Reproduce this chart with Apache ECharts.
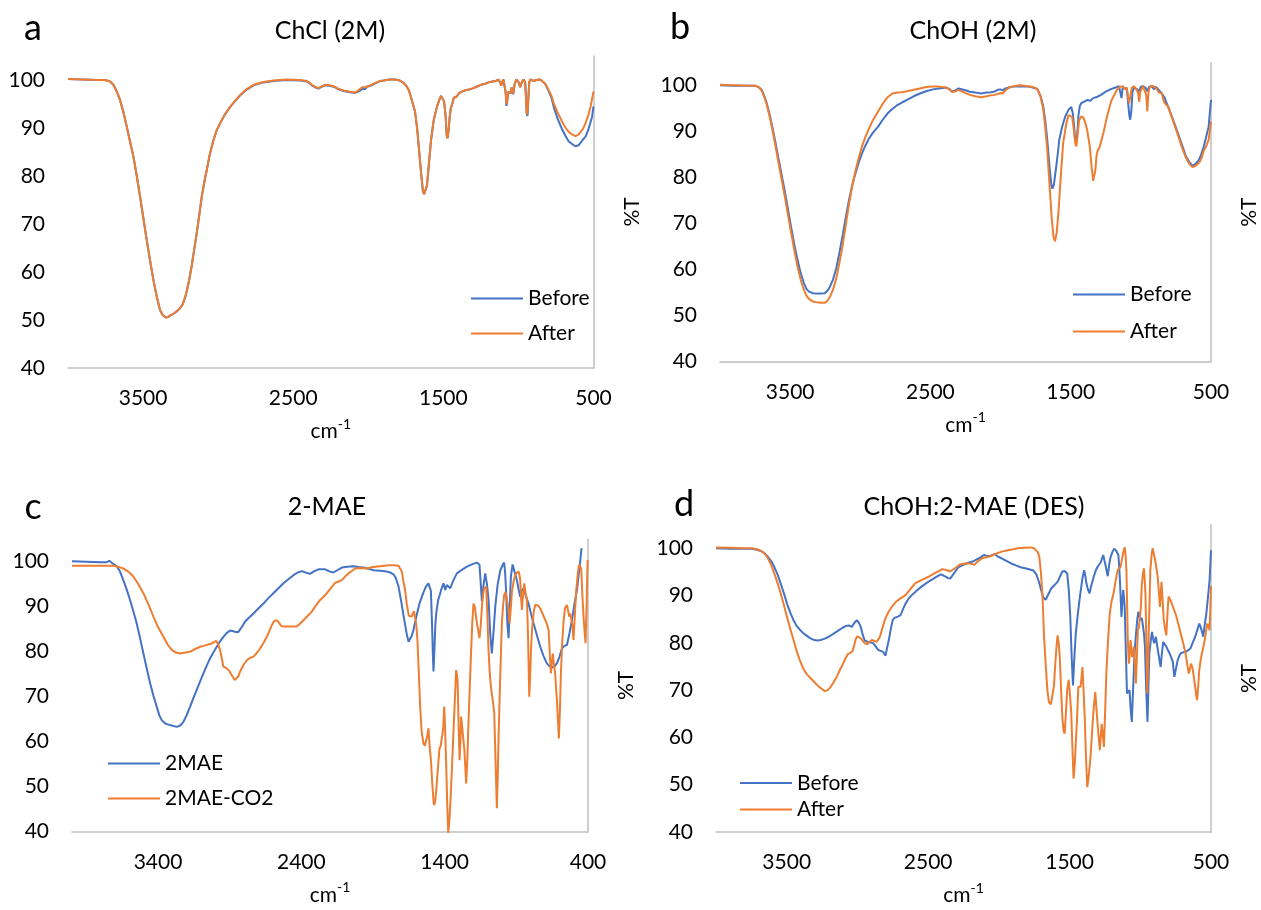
<!DOCTYPE html>
<html>
<head>
<meta charset="utf-8">
<script src="https://cdn.jsdelivr.net/npm/echarts@6/dist/echarts.min.js"></script>
<style>
html,body{margin:0;padding:0;background:#fff;}
#chart{width:1261px;height:910px;}
</style>
</head>
<body>
<div id="chart"></div>
<script>
// ---------------- DATA (wavenumber cm-1, %T) ----------------
const panelTitles = ['ChCl (2M)', 'ChOH (2M)', '2-MAE', 'ChOH:2-MAE (DES)'];
const panelLetters = ['a', 'b', 'c', 'd'];
const seriesNames = [['Before', 'After'], ['Before', 'After'], ['2MAE', '2MAE-CO2'], ['Before', 'After']];
const xMins = [500, 500, 400, 500];
const xMax = 4000;
const yMin = 40, yMax = 105, yStep = 10, xStep = 1000;

const aBefore = [[4000,100.2],[3900,100.1],[3800,100],[3753,100],[3720,99.7],[3698,99],[3675,97.6],[3653,95.8],[3630,93.2],[3609,90.3],[3587,87.2],[3564,84],[3542,80],[3520,75.7],[3498,71.2],[3476,66.7],[3453,62.3],[3431,58.3],[3409,54.9],[3387,52.1],[3368,51],[3349,50.5],[3335,50.6],[3320,50.9],[3298,51.3],[3276,51.8],[3255,52.4],[3236,53.3],[3222,54.5],[3209,56],[3192,58.5],[3176,61.3],[3160,64.6],[3142,68.2],[3125,72],[3109,75.7],[3092,78.8],[3076,81.2],[3055,84.6],[3031,87.5],[3010,89.5],[2987,91],[2955,92.8],[2920,94.4],[2887,95.6],[2853,96.8],[2810,98],[2764,98.9],[2700,99.5],[2631,99.8],[2550,100],[2453,99.9],[2409,99.7],[2390,99.3],[2376,98.9],[2355,98.5],[2331,98.2],[2310,98.6],[2287,98.9],[2260,98.8],[2231,98.6],[2200,98.1],[2165,97.7],[2130,97.5],[2087,97.3],[2060,97.7],[2040,98.1],[2031,98.3],[2020,98.1],[2009,98.6],[1985,98.8],[1953,99.3],[1920,99.8],[1898,99.9],[1860,100.1],[1820,100.1],[1790,99.9],[1765,99.4],[1745,98.7],[1729,97.8],[1710,95.8],[1689,93.5],[1675,90],[1662,85.5],[1648,80.5],[1636,76.8],[1628,76.2],[1620,76.6],[1609,78],[1595,83],[1582,87.5],[1565,91.5],[1543,94.4],[1525,96],[1515,96.7],[1505,96.4],[1495,95.5],[1485,92.5],[1478,88.5],[1472,87.9],[1465,89.5],[1458,92.2],[1451,94],[1440,95.1],[1430,96.3],[1424,96],[1410,96.6],[1395,97.3],[1385,97.3],[1360,97.8],[1330,98],[1300,98.3],[1279,98.6],[1250,99],[1220,99.2],[1200,99.5],[1173,99.7],[1150,99.8],[1133,100.1],[1122,99.5],[1115,98.8],[1108,99.6],[1100,100.1],[1093,100],[1085,97.3],[1080,94.6],[1075,95.4],[1068,97.5],[1062,97.4],[1053,97.2],[1045,98.4],[1035,97],[1025,99.2],[1014,100.1],[1000,99.6],[988,98.5],[978,99.5],[967,100.1],[955,99.5],[950,96.5],[945,93],[940,92.5],[935,95.5],[928,99.5],[921,100.1],[900,99.8],[880,100],[855,100.1],[835,99.6],[820,99.1],[800,97.8],[780,96.3],[765,94.4],[740,92],[709,89.7],[685,88.3],[665,87.2],[640,86.6],[620,86.2],[600,86.4],[587,86.9],[570,87.6],[560,87.3],[553,88.2],[545,88.6],[535,89.6],[520,91.2],[510,92.3],[500,94.5]];
const aAfter = [[4000,100.2],[3900,100.1],[3800,100],[3753,100],[3720,99.7],[3698,99],[3675,97.6],[3653,95.8],[3630,93.2],[3609,90.3],[3587,87.2],[3564,84],[3542,80],[3520,75.7],[3498,71.2],[3476,66.7],[3453,62.3],[3431,58.3],[3409,54.9],[3387,52.1],[3368,51],[3349,50.5],[3335,50.6],[3320,50.9],[3298,51.3],[3276,51.8],[3255,52.4],[3236,53.3],[3222,54.5],[3209,56],[3192,58.5],[3176,61.3],[3160,64.6],[3142,68.2],[3125,72],[3109,75.7],[3092,78.8],[3076,81.2],[3055,84.6],[3031,87.5],[3010,89.5],[2987,91],[2955,92.8],[2920,94.4],[2887,95.7],[2853,96.9],[2810,98.1],[2764,99],[2700,99.6],[2631,99.9],[2550,100.1],[2453,100],[2409,99.8],[2390,99.4],[2376,99],[2355,98.6],[2331,98.3],[2310,98.7],[2287,99],[2260,98.9],[2231,98.7],[2200,98.2],[2165,97.8],[2130,97.6],[2087,97.4],[2060,98],[2040,98.5],[2031,98.9],[2020,98.5],[2009,98.8],[1985,98.9],[1953,99.4],[1920,99.8],[1898,99.9],[1860,100.1],[1820,100.1],[1790,99.9],[1765,99.4],[1745,98.7],[1729,97.8],[1710,95.8],[1689,93.5],[1675,90],[1662,85.5],[1648,80.5],[1636,76.8],[1628,76.2],[1620,76.6],[1609,78],[1595,83],[1582,87.5],[1565,91.5],[1543,94.4],[1525,96],[1515,96.7],[1505,96.4],[1495,95.5],[1485,92.5],[1478,88.5],[1472,87.9],[1465,89.5],[1458,92.2],[1451,94],[1440,95.1],[1430,96.3],[1424,96],[1410,96.6],[1395,97.3],[1385,97.3],[1360,97.8],[1330,98],[1300,98.3],[1279,98.6],[1250,99],[1220,99.2],[1200,99.5],[1173,99.7],[1150,99.8],[1133,100.1],[1122,99.5],[1115,98.8],[1108,99.6],[1100,100.1],[1093,100],[1085,97.5],[1080,95],[1075,95.6],[1068,97.6],[1062,97.5],[1053,97.3],[1045,98.5],[1035,97.2],[1025,99.2],[1014,100.1],[1000,99.6],[988,98.5],[978,99.5],[967,100.1],[955,99.5],[950,96.5],[945,93.3],[940,92.8],[935,95.5],[928,99.5],[921,100.1],[900,99.8],[880,100],[855,100.1],[835,99.6],[820,99.2],[800,98],[780,96.7],[765,95.1],[740,93.3],[709,91.3],[685,90],[665,89.2],[640,88.6],[620,88.3],[600,88.6],[587,88.9],[570,89.8],[553,91],[535,92.6],[520,94.4],[505,96.8],[500,97.6]];

const bBefore = [[4000,100.1],[3900,100],[3800,100],[3747,100],[3720,99.6],[3701,99],[3685,97.8],[3667,96.2],[3650,94.2],[3632,91.8],[3610,88.5],[3586,84.6],[3563,81],[3540,77.4],[3517,73.4],[3494,69.4],[3471,65.6],[3448,62.2],[3425,59.3],[3402,57.1],[3385,55.9],[3368,55.3],[3340,54.9],[3310,54.8],[3280,54.8],[3253,54.9],[3235,55.4],[3218,56.2],[3195,57.8],[3172,60.2],[3150,63.5],[3126,67.4],[3103,71.4],[3080,75.2],[3057,78.4],[3034,81],[3011,83.3],[2988,85.3],[2965,86.9],[2942,88.3],[2910,89.8],[2873,91.1],[2840,92.6],[2805,94],[2770,95],[2736,95.8],[2700,96.4],[2667,96.9],[2620,97.7],[2575,98.3],[2530,98.8],[2483,99.2],[2440,99.4],[2391,99.6],[2365,99.3],[2345,98.7],[2320,99],[2300,99.4],[2287,99.3],[2250,99],[2218,98.7],[2180,98.5],[2138,98.3],[2100,98.5],[2070,98.6],[2046,98.7],[2020,99.1],[2010,98.8],[2000,99.2],[1985,99],[1965,99.4],[1940,99.6],[1908,99.8],[1860,99.9],[1804,99.8],[1770,99.6],[1738,99.3],[1715,97.8],[1695,95.4],[1680,92],[1667,88.2],[1650,82],[1637,78.2],[1630,77.6],[1620,78.5],[1605,82],[1590,85.8],[1582,88.2],[1560,91.2],[1539,93.3],[1515,94.8],[1496,95.4],[1485,94],[1475,91],[1468,88],[1460,87.5],[1452,90],[1445,93.5],[1435,95.6],[1425,96.2],[1400,96.6],[1379,96.9],[1360,96.7],[1340,97.3],[1310,97.6],[1284,98],[1250,98.7],[1210,99.3],[1180,99.6],[1156,99.9],[1145,99.6],[1138,97.3],[1130,99.5],[1120,99.6],[1100,99.4],[1090,96],[1082,93.5],[1076,92.6],[1068,94.5],[1060,98.5],[1050,99.6],[1039,99.5],[1025,99.2],[1012,98.6],[1000,99.8],[984,99.9],[965,99.5],[954,98.8],[940,99.8],[925,99.9],[919,100],[905,99.2],[895,99.8],[870,99],[850,98.3],[832,97.5],[820,96.5],[805,95.4],[770,92.6],[736,89.7],[705,87],[678,84.6],[655,83.4],[632,82.6],[610,83],[586,83.9],[570,85],[552,86.8],[535,88.8],[517,91.1],[500,96.9]];
const bAfter = [[4000,100.2],[3900,100.1],[3800,100],[3747,100],[3720,99.6],[3701,98.9],[3685,97.6],[3667,95.9],[3650,93.8],[3632,91.3],[3610,87.8],[3586,83.8],[3563,80],[3540,76.2],[3517,72.2],[3494,68.2],[3471,64.4],[3448,60.8],[3425,57.8],[3402,55.6],[3385,54.4],[3368,53.7],[3340,53.1],[3310,52.9],[3280,52.8],[3253,52.8],[3235,53.2],[3218,54],[3195,55.6],[3172,58],[3150,61.3],[3126,65.3],[3103,69.8],[3080,74.3],[3057,78.3],[3034,81.5],[3011,84.3],[2988,86.8],[2965,88.7],[2942,90.4],[2910,92.5],[2873,94.4],[2840,96.1],[2805,97.5],[2770,98.3],[2736,98.5],[2700,98.6],[2667,98.8],[2620,99.1],[2575,99.4],[2530,99.7],[2483,99.8],[2440,99.8],[2391,99.6],[2365,99.2],[2345,98.6],[2320,98.8],[2300,99.1],[2287,98.9],[2250,98.4],[2218,98],[2180,97.7],[2138,97.5],[2100,97.7],[2070,97.9],[2046,98],[2020,98.2],[2010,97.8],[2000,98.4],[1985,98.3],[1965,99],[1940,99.6],[1908,99.9],[1860,100.1],[1804,99.9],[1770,99.7],[1738,99.3],[1715,97.6],[1695,94.8],[1680,90.5],[1667,86],[1650,78],[1635,71],[1622,67],[1612,66.2],[1600,68],[1590,71.5],[1582,75],[1568,81.5],[1554,87.5],[1530,92],[1515,93.6],[1505,94],[1490,93.2],[1478,90.5],[1468,87.5],[1460,86.8],[1452,89],[1440,92.5],[1425,93.3],[1410,93.1],[1395,91.8],[1383,90.4],[1365,87],[1350,82],[1340,79.3],[1335,79],[1325,81.5],[1315,85],[1307,86],[1295,86.5],[1284,86.8],[1265,90],[1241,93.3],[1210,96.8],[1170,99.1],[1145,99.8],[1127,99.9],[1115,99.2],[1100,99.6],[1085,96.2],[1078,97.2],[1065,99.5],[1050,99.9],[1035,99.3],[1020,98.5],[1012,96.5],[1004,98.8],[984,99.9],[970,99.6],[962,98],[954,94.4],[946,98.5],[935,99.8],[919,100],[895,99.6],[870,98.5],[850,98.3],[840,97],[832,96.3],[820,96.6],[805,95.4],[770,92.3],[736,89.3],[705,86.4],[678,84.3],[655,83],[632,82.3],[610,82.6],[586,83.2],[570,84],[552,85.8],[535,86.8],[517,88.2],[500,92.2]];

const c2MAE = [[4000,100.1],[3900,100],[3800,99.9],[3758,99.9],[3740,100.2],[3720,99.7],[3688,99],[3665,97.8],[3642,95.9],[3618,93.8],[3595,91.5],[3572,89],[3549,86.3],[3525,83],[3502,79.6],[3478,76.2],[3455,73],[3432,70.2],[3409,67.8],[3390,65.8],[3374,64.8],[3355,64.2],[3339,63.9],[3305,63.6],[3269,63.3],[3245,63.6],[3223,64.4],[3200,65.9],[3176,67.8],[3153,69.7],[3130,71.5],[3106,73.4],[3083,75.2],[3060,76.9],[3037,78.5],[3013,79.9],[2990,81.1],[2967,82.3],[2944,83.3],[2920,84.2],[2897,84.7],[2880,84.6],[2862,84.4],[2839,84.4],[2815,85.5],[2792,86.7],[2760,87.7],[2734,88.5],[2700,89.6],[2664,90.7],[2630,91.9],[2595,93],[2560,94.1],[2525,95.2],[2490,96.1],[2455,97],[2425,97.6],[2397,97.9],[2370,97.6],[2339,97.3],[2310,97.9],[2280,98.3],[2234,98.3],[2200,97.8],[2176,97.6],[2150,98.1],[2117,98.7],[2080,98.9],[2036,99],[2000,98.8],[1966,98.7],[1930,98.4],[1896,98.1],[1850,98],[1803,97.8],[1780,97.6],[1757,97.2],[1740,96.3],[1722,94.5],[1705,91.5],[1687,88],[1665,84],[1652,82.2],[1640,82.4],[1630,83.5],[1618,84.8],[1600,87.5],[1575,90.8],[1550,93],[1530,94.5],[1513,95.2],[1503,94.9],[1496,93.5],[1488,86],[1482,79],[1478,75.6],[1472,80],[1465,86],[1459,88.5],[1445,91.5],[1431,93],[1420,94.2],[1408,95.2],[1396,93.7],[1385,94.8],[1372,94.6],[1361,94.1],[1340,95.8],[1315,97.4],[1280,98.2],[1245,98.9],[1210,99.4],[1175,99.8],[1165,99.8],[1157,99.3],[1150,96],[1140,91.1],[1130,94.5],[1117,97.4],[1105,95],[1094,91.5],[1082,84],[1071,79.6],[1060,84],[1047,90],[1030,95],[1012,98.1],[995,99.3],[985,99.8],[978,97.5],[971,93],[962,86],[954,83],[946,90],[938,96.7],[926,99.4],[910,97.5],[896,95.9],[885,94],[873,92.2],[862,93.5],[850,94.1],[835,92.5],[815,90.7],[798,88.5],[780,86.3],[755,83.5],[733,81.1],[710,79],[687,77.4],[670,76.8],[652,76.5],[635,76.7],[617,77.4],[600,78.8],[582,80.7],[565,81.3],[547,81.5],[530,84],[512,87],[495,90.5],[477,93.7],[465,97],[458,99],[445,103]];
const c2MAE_CO2 = [[4000,99.1],[3850,99.1],[3711,99.1],[3680,98.9],[3642,98.5],[3607,97.8],[3572,96.7],[3537,95],[3502,93],[3467,90.5],[3432,87.8],[3397,85.3],[3362,83.3],[3333,81.6],[3304,80.4],[3275,79.8],[3246,79.6],[3210,79.8],[3176,80],[3140,80.6],[3106,81.1],[3070,81.4],[3037,81.7],[3010,82.1],[2995,82.4],[2982,81.8],[2967,80.4],[2955,78.5],[2944,76.7],[2932,76.4],[2920,76.3],[2905,75.8],[2897,75.6],[2880,74.5],[2865,73.7],[2855,73.6],[2840,74.5],[2827,75.6],[2805,77],[2781,78.1],[2760,78.6],[2734,78.9],[2710,79.7],[2688,80.7],[2665,81.9],[2641,83.3],[2620,84.8],[2606,85.9],[2590,86.8],[2571,87],[2555,86.4],[2540,85.7],[2525,85.6],[2478,85.6],[2432,85.6],[2410,86.2],[2385,87],[2355,88],[2327,88.9],[2300,90.2],[2269,91.5],[2245,92.2],[2222,93],[2190,94.3],[2164,95.3],[2140,95.6],[2117,95.9],[2095,96.7],[2071,97.4],[2045,98],[2025,98.5],[1990,98.6],[1943,98.5],[1900,98.8],[1850,99],[1790,99.2],[1750,99.2],[1722,99.1],[1711,98.8],[1699,97.8],[1690,96],[1676,93.7],[1664,90.5],[1650,88],[1641,87.6],[1630,87.8],[1622,88.5],[1614,89],[1606,88.9],[1598,86],[1590,82.6],[1580,75],[1571,67.8],[1560,62],[1548,59.6],[1538,59.1],[1529,59.3],[1520,61.5],[1513,63],[1505,59],[1496,55.9],[1485,50],[1477,46.5],[1473,45.9],[1465,47],[1455,50.7],[1445,55],[1436,58.5],[1428,59],[1420,58.9],[1410,63],[1403,67.8],[1397,63],[1389,54.4],[1382,46],[1375,39.6],[1366,43],[1357,48.5],[1348,55],[1338,62.6],[1328,70],[1320,75.9],[1315,75],[1310,73.7],[1303,64],[1296,55.9],[1290,60],[1285,65.6],[1278,66],[1273,65.6],[1262,58],[1250,50.7],[1242,56],[1234,64.1],[1225,72],[1217,78.9],[1208,86],[1199,90.7],[1190,90],[1182,88],[1175,86.3],[1165,84.5],[1157,83],[1148,86],[1140,90],[1132,92.8],[1124,94.1],[1117,94.5],[1110,94.4],[1102,88],[1094,80.4],[1085,75],[1078,72.5],[1071,70.7],[1062,68.5],[1054,66.3],[1047,58],[1040,50],[1036,45.2],[1030,52],[1024,61],[1017,69.3],[1008,79],[1001,86.3],[993,90],[985,92.6],[975,93.2],[966,93.3],[957,90],[947,86.3],[940,89],[931,93.3],[920,95.5],[910,96.8],[901,97.4],[884,97.8],[878,97],[873,95.9],[867,92],[861,89.3],[855,92],[845,95.2],[835,93],[826,91.5],[818,83],[810,70],[804,74],[798,80.4],[790,85],[784,87.4],[776,89.3],[768,90.4],[750,90.3],[733,89.6],[715,88.3],[698,87],[685,86],[675,84.8],[667,80],[659,75.2],[652,77.5],[645,79.6],[637,77],[629,75.2],[623,72],[617,69.3],[610,65],[603,60.7],[596,67],[589,75.2],[580,82],[570,87],[560,89.7],[547,90.4],[540,89.3],[531,87.8],[524,88.5],[517,88.9],[509,86],[501,82.6],[492,88],[482,93.7],[472,97],[463,99.3],[455,99],[447,98.5],[440,93],[431,87.8],[424,84.5],[417,81.9],[410,90],[403,100.4],[400,100.5]];

const dBefore = [[4000,100],[3900,99.9],[3800,99.9],[3747,99.9],[3710,99.7],[3679,99.4],[3655,98.9],[3633,98.2],[3610,97.3],[3588,96.1],[3565,94.5],[3543,92.6],[3520,90.5],[3498,88.3],[3475,86.4],[3452,84.8],[3430,83.6],[3407,82.8],[3385,82.1],[3362,81.6],[3335,81],[3305,80.6],[3283,80.5],[3260,80.6],[3230,80.9],[3203,81.3],[3170,81.9],[3136,82.6],[3105,83.2],[3079,83.6],[3060,83.7],[3040,83.4],[3022,84.2],[3004,84.8],[2990,84.3],[2977,83.4],[2963,81.8],[2950,80.6],[2935,80.3],[2921,80.2],[2905,80.1],[2887,79.9],[2870,79.2],[2853,78.5],[2835,78.3],[2819,78.1],[2810,77.8],[2801,77.3],[2790,79],[2778,80.6],[2765,82.8],[2751,84.8],[2738,85.3],[2724,85.5],[2710,85.6],[2694,85.9],[2677,87.2],[2660,88.3],[2640,89.3],[2615,90.1],[2580,91.1],[2547,91.9],[2510,92.7],[2479,93.3],[2445,93.9],[2411,94.5],[2395,94.3],[2377,94],[2360,93.7],[2344,93.6],[2320,94.6],[2287,96],[2260,96.4],[2230,96.8],[2210,97],[2185,97.2],[2160,97.6],[2140,97.9],[2125,98.2],[2106,98.6],[2085,98.4],[2061,98.4],[2045,98.6],[2027,98.8],[2010,98.3],[1981,97.9],[1950,97.4],[1913,96.8],[1880,96.4],[1846,96],[1800,95.7],[1755,95.3],[1735,94.5],[1721,93.3],[1710,92.2],[1698,90.8],[1685,89.6],[1669,89.1],[1650,90.3],[1630,91.5],[1608,92.2],[1585,92.9],[1568,94],[1551,95.1],[1535,95.2],[1517,94.7],[1505,91],[1495,85.5],[1485,77],[1476,71],[1466,77],[1456,82],[1440,86.5],[1427,89.8],[1410,93.5],[1397,95.4],[1389,94.2],[1381,92.6],[1370,91.3],[1359,90.5],[1345,92.3],[1329,94],[1315,95.3],[1302,96.1],[1290,96.5],[1280,97],[1270,97.9],[1262,98.6],[1254,97.5],[1246,96.5],[1238,95.2],[1230,94.1],[1220,96.5],[1212,97.9],[1198,99.2],[1185,99.9],[1170,99.5],[1155,98.6],[1150,96.5],[1144,93.3],[1138,89],[1133,85.5],[1127,88.5],[1121,91.2],[1115,89.5],[1110,87.6],[1102,78],[1094,69.3],[1085,69.5],[1076,70],[1068,66],[1060,63.3],[1051,70],[1042,77],[1034,80.5],[1026,83.4],[1020,85.3],[1013,86.6],[1005,85.5],[997,84.8],[989,85.3],[981,85.5],[974,82],[967,79.2],[958,70],[949,63.3],[943,70],[936,77.8],[926,80.5],[917,82.3],[910,81],[902,79.9],[896,80.6],[890,81.3],[881,79.5],[872,77.8],[864,76.3],[856,74.9],[848,77.5],[838,80.2],[828,79.8],[816,79.2],[805,78.5],[793,77.8],[782,77],[770,76],[765,74.5],[759,72.8],[748,74.5],[736,76.3],[725,77.2],[714,77.8],[697,78],[680,78.1],[663,78.4],[646,78.8],[630,80],[612,81.3],[597,82.7],[583,84.1],[575,83.5],[567,82.7],[560,82],[555,81.3],[545,83.7],[533,86.2],[522,89.5],[510,93.3],[500,99.6]];
const dAfter = [[4000,100.2],[3900,100.1],[3800,100],[3747,100],[3710,99.8],[3679,99.4],[3655,98.8],[3633,97.9],[3610,96.5],[3588,94.7],[3565,92.7],[3543,90.5],[3520,88],[3498,85.5],[3475,83],[3452,80.6],[3430,78.3],[3407,76.3],[3385,74.7],[3362,73.5],[3340,72.8],[3317,72.1],[3295,71.4],[3271,70.7],[3250,70.2],[3231,69.8],[3210,70],[3192,70.6],[3170,71.6],[3147,72.8],[3125,74.2],[3102,75.6],[3085,76.7],[3068,77.6],[3050,77.9],[3034,78.3],[3022,79.6],[3011,80.9],[3000,81.4],[2989,81.5],[2978,81],[2966,80.6],[2950,80],[2932,79.7],[2915,80.2],[2898,80.6],[2880,80.4],[2864,80.2],[2850,80.6],[2841,81.3],[2825,83],[2807,84.8],[2790,86],[2773,86.9],[2750,87.9],[2728,88.7],[2700,89.3],[2660,90.1],[2625,91.4],[2592,92.6],[2560,93.1],[2525,93.6],[2490,94.1],[2457,94.7],[2430,95.1],[2400,95.6],[2380,95.5],[2366,95.3],[2345,95.1],[2332,95.1],[2305,95.9],[2276,96.6],[2240,96.8],[2208,96.8],[2190,96.7],[2174,96.5],[2150,97.2],[2117,97.9],[2072,98.2],[2040,98.6],[2015,98.9],[1981,99.3],[1936,99.6],[1900,99.8],[1868,100],[1823,100.1],[1777,100.2],[1750,100],[1737,99.8],[1725,99.2],[1714,98.2],[1703,95],[1691,89.7],[1680,81],[1669,75.6],[1657,70],[1646,67.5],[1632,67],[1619,67.2],[1610,71],[1601,75.6],[1593,79],[1585,81.6],[1577,80],[1569,77],[1560,70],[1551,64.3],[1543,61.5],[1535,60.8],[1526,65],[1517,70],[1506,72.2],[1497,69],[1488,65.1],[1480,58],[1472,51.3],[1464,54],[1456,58.7],[1447,64],[1438,70.7],[1430,71],[1422,70.7],[1416,72.5],[1409,74.9],[1401,70],[1393,64.3],[1384,56],[1375,49.5],[1364,52],[1352,55.9],[1344,59.5],[1336,63.6],[1327,67],[1318,69.6],[1310,66],[1302,62.9],[1294,60],[1286,57.3],[1280,60],[1273,62.9],[1265,60.5],[1257,58],[1248,66],[1239,74.2],[1228,80.5],[1216,86.2],[1203,88.8],[1189,90.5],[1175,93],[1160,95.4],[1150,95.8],[1139,96.1],[1132,97.3],[1126,98.2],[1118,99.5],[1110,100.2],[1104,98.5],[1098,95.4],[1093,88],[1089,81.3],[1084,77.5],[1080,75.6],[1074,78],[1069,80.6],[1063,79],[1058,77],[1051,78],[1044,79.2],[1037,75],[1031,71.4],[1024,77],[1017,82.7],[1010,83.2],[1003,83.4],[996,87.5],[990,91.9],[982,94.5],[974,95.8],[968,93],[963,89.8],[957,80],[951,69.3],[945,75],[940,82.7],[934,89],[929,95.4],[920,98.5],[913,100],[904,98.8],[895,97.5],[886,95.8],[877,94],[869,91],[861,87.6],[855,90.5],[850,92.9],[842,89],[834,84.8],[825,83],[816,81.6],[808,86],[800,89.8],[791,89.3],[782,88.7],[765,87.3],[748,85.9],[731,84],[714,82],[697,80],[680,77.8],[668,75.5],[657,73.5],[649,74.5],[641,75.6],[634,75],[628,74.2],[620,72.5],[612,70.7],[605,69],[598,67.9],[590,71],[583,74.2],[575,76],[567,77.4],[555,79],[544,80.6],[535,82.5],[526,84.1],[518,83.5],[510,82.7],[505,87],[500,92]];

const panelData = [[aBefore, aAfter], [bBefore, bAfter], [c2MAE, c2MAE_CO2], [dBefore, dAfter]];

// ---------------- LAYOUT / STYLE ----------------
const W = 1261, H = 910;
const FONT = 'Lato, "Open Sans", sans-serif';
const COLORS = ['#4472C4', '#ED7D31'];
const AXIS_GRAY = '#BFBFBF';
// plot rectangles [left, right, top(=105), bottom(=40)]
const rects = [
  [68, 593.5, 56, 368],
  [720, 1228, 62.7, 361.7],
  [72, 588, 539.2, 831.7],
  [716, 1232, 524.7, 832]
];
const titlePos = [[330, 31], [973, 31], [327, 507], [974, 507]];
const letterPos = [[33, 28], [680, 27], [33, 507], [684, 504]];
const legendPos = [[466, 283, 14], [1068, 279, 16], [103, 748, 14], [735, 767.5, 5.5]];

const grids = [], xAxes = [], yAxes = [], series = [], legends = [], graphics = [];
rects.forEach((r, i) => {
  grids.push({left: r[0], width: r[1] - r[0], top: r[2], height: r[3] - r[2], containLabel: false});
  xAxes.push({
    gridIndex: i, type: 'value', inverse: true, min: xMins[i], max: xMax, interval: xStep,
    axisLine: {show: true, onZero: false, lineStyle: {color: AXIS_GRAY, width: 1.5}},
    axisTick: {show: false}, splitLine: {show: false},
    axisLabel: {showMaxLabel: false, margin: 20, fontSize: 21, color: '#000', fontFamily: FONT,
      formatter: v => String(v)},
    name: '{a|cm}{b|-1}', nameLocation: 'middle', nameGap: 49,
    nameTextStyle: {rich: {
      a: {fontSize: 21, fontFamily: FONT, color: '#000', lineHeight: 25, verticalAlign: 'bottom'},
      b: {fontSize: 14, fontFamily: FONT, color: '#000', lineHeight: 14, verticalAlign: 'top'}
    }}
  });
  yAxes.push({
    gridIndex: i, type: 'value', min: yMin, max: yMax, interval: yStep, position: 'left',
    axisLine: {show: false}, axisTick: {show: false}, splitLine: {show: false},
    axisLabel: {showMaxLabel: false, margin: 23, fontSize: 21, color: '#000', fontFamily: FONT}
  });
  yAxes.push({
    gridIndex: i, type: 'value', min: yMin, max: yMax, interval: yStep, position: 'right',
    axisLine: {show: true, lineStyle: {color: AXIS_GRAY, width: 1.5}},
    axisTick: {show: false}, splitLine: {show: false}, axisLabel: {show: false},
    name: '%T', nameLocation: 'middle', nameRotate: 90, nameGap: 28,
    nameTextStyle: {fontSize: 21, fontFamily: FONT, color: '#000'}
  });
  panelData[i].forEach((d, k) => {
    series.push({
      type: 'line', name: seriesNames[i][k], xAxisIndex: i, yAxisIndex: 2 * i,
      data: d, showSymbol: false, symbol: 'none', smooth: false,
      lineStyle: {color: COLORS[k], width: 2}, itemStyle: {color: COLORS[k]},
      z: 2 + k
    });
  });
  legends.push({
    data: seriesNames[i], orient: 'vertical', left: legendPos[i][0], top: legendPos[i][1],
    itemGap: legendPos[i][2], itemWidth: 52, itemHeight: 2, icon: 'rect',
    textStyle: {fontSize: 21, fontFamily: FONT, color: '#000', lineHeight: 21},
    selectedMode: false
  });
  graphics.push({type: 'text', x: titlePos[i][0], y: titlePos[i][1],
    style: {text: panelTitles[i], fontSize: 25, fontFamily: FONT, fill: '#000', align: 'center', verticalAlign: 'middle'}});
  graphics.push({type: 'text', x: letterPos[i][0], y: letterPos[i][1],
    style: {text: panelLetters[i], fontSize: 36, fontFamily: FONT, fill: '#000', align: 'center', verticalAlign: 'middle'}});
});

const chart = echarts.init(document.getElementById('chart'), null, {renderer: 'canvas', width: W, height: H});
chart.setOption({
  animation: false,
  backgroundColor: '#fff',
  grid: grids, xAxis: xAxes, yAxis: yAxes, series: series, legend: legends, graphic: graphics
});
</script>
</body>
</html>
